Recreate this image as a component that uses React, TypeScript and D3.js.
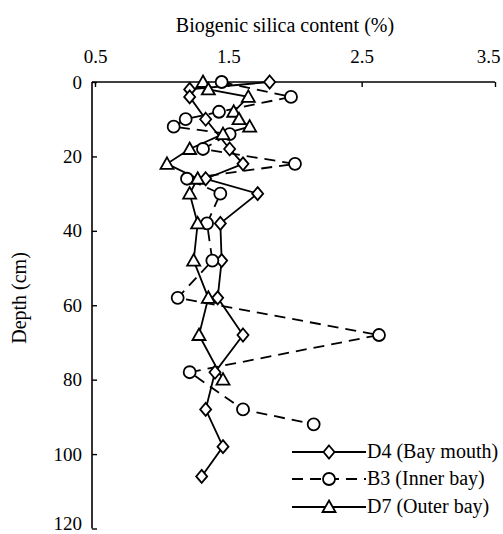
import { useEffect, useRef } from "react";
import * as d3 from "d3";

// depth (cm) and biogenic silica (%) per core
const depthD4 = [0, 2, 4, 10, 18, 22, 26, 30, 38, 48, 58, 68, 78, 88, 98, 106];
const silicaD4 = [1.81, 1.21, 1.21, 1.33, 1.51, 1.61, 1.33, 1.72, 1.44, 1.45, 1.42, 1.61, 1.4, 1.33, 1.46, 1.3];

const depthB3 = [0, 4, 8, 10, 12, 14, 18, 22, 26, 30, 38, 48, 58, 68, 78, 88, 92];
const silicaB3 = [1.45, 1.97, 1.43, 1.18, 1.09, 1.51, 1.31, 2.0, 1.19, 1.44, 1.34, 1.38, 1.12, 2.63, 1.21, 1.61, 2.14];

const depthD7 = [0, 2, 4, 8, 10, 12, 14, 18, 22, 26, 30, 38, 48, 58, 68, 80];
const silicaD7 = [1.31, 1.35, 1.65, 1.54, 1.58, 1.66, 1.46, 1.21, 1.04, 1.27, 1.21, 1.27, 1.24, 1.35, 1.28, 1.46];

const xTicks = [0.5, 1.5, 2.5, 3.5];
const yTicks = [0, 20, 40, 60, 80, 100, 120];
const seriesNames = ["D4 (Bay mouth)", "B3 (Inner bay)", "D7 (Outer bay)"];

const FONT = "'Liberation Serif', 'Times New Roman', serif";

const diamond = "M0,-6.5L5.5,0L0,6.5L-5.5,0Z";
const triangle = "M0,-6.5L6.5,5L-6.5,5Z";

export default function App() {
  const ref = useRef<SVGSVGElement>(null);

  useEffect(() => {
    const svg = d3.select(ref.current);
    svg.selectAll("*").remove();

    const x = d3.scaleLinear().domain([0.5, 3.5]).range([95, 495]);
    const y = d3.scaleLinear().domain([0, 120]).range([82, 528.5]);
    const left = 92;

    // axes frame
    svg.append("line").attr("x1", left).attr("x2", 495).attr("y1", y(0)).attr("y2", y(0))
      .attr("stroke", "#000").attr("stroke-width", 1.6);
    svg.append("line").attr("x1", left).attr("x2", left).attr("y1", y(0)).attr("y2", y(120))
      .attr("stroke", "#000").attr("stroke-width", 1.6);

    const xAxis = svg.append("g")
      .attr("transform", `translate(0,${y(0)})`)
      .call(d3.axisTop(x).tickValues(xTicks).tickFormat(d3.format(".1f")).tickSizeInner(-5).tickSizeOuter(0).tickPadding(19));
    xAxis.select(".domain").remove();
    // last label sits against the right edge
    xAxis.selectAll(".tick text").filter((d: any) => d === 3.5).attr("dx", -7);

    const yAxis = svg.append("g")
      .attr("transform", `translate(${left},0)`)
      .call(d3.axisLeft(y).tickValues(yTicks).tickSizeInner(-5).tickSizeOuter(0).tickPadding(10));
    yAxis.select(".domain").remove();
    yAxis.selectAll(".tick text").filter((d: any) => d === 120).attr("dy", "0.05em");

    svg.selectAll(".tick line").attr("stroke", "#000").attr("stroke-width", 1.4);
    svg.selectAll(".tick text").attr("fill", "#000").style("font-family", FONT).style("font-size", "19px");

    // titles
    svg.append("text").attr("x", 285).attr("y", 32).attr("text-anchor", "middle")
      .style("font-family", FONT).style("font-size", "20px").text("Biogenic silica content (%)");
    svg.append("text").attr("transform", "translate(26,298) rotate(-90)").attr("text-anchor", "middle")
      .style("font-family", FONT).style("font-size", "20px").text("Depth (cm)");

    const series = [
      { depth: depthD4, val: silicaD4, dash: null, marker: "diamond" },
      { depth: depthB3, val: silicaB3, dash: "11,7", marker: "circle" },
      { depth: depthD7, val: silicaD7, dash: null, marker: "triangle" },
    ];

    const line = d3.line<[number, number]>().x((d) => x(d[1])).y((d) => y(d[0]));

    const drawMarker = (g: any, kind: string, cx: number, cy: number) => {
      if (kind === "circle") {
        g.append("circle").attr("cx", cx).attr("cy", cy).attr("r", 6)
          .attr("fill", "#fff").attr("stroke", "#000").attr("stroke-width", 1.8);
      } else {
        g.append("path").attr("d", kind === "diamond" ? diamond : triangle)
          .attr("transform", `translate(${cx},${cy})`)
          .attr("fill", "#fff").attr("stroke", "#000").attr("stroke-width", 1.8);
      }
    };

    series.forEach((s) => {
      const pts = s.depth.map((d, i) => [d, s.val[i]] as [number, number]);
      svg.append("path").attr("d", line(pts)).attr("fill", "none").attr("stroke", "#000")
        .attr("stroke-width", 1.8).attr("stroke-dasharray", s.dash);
    });
    series.forEach((s) => {
      const g = svg.append("g");
      s.depth.forEach((d, i) => drawMarker(g, s.marker, x(s.val[i]), y(d)));
    });

    // legend
    const legY = [452, 479, 507];
    series.forEach((s, i) => {
      const g = svg.append("g");
      g.append("line").attr("x1", 292).attr("x2", 366).attr("y1", legY[i]).attr("y2", legY[i])
        .attr("stroke", "#000").attr("stroke-width", 1.8).attr("stroke-dasharray", s.dash);
      drawMarker(g, s.marker, 329, legY[i]);
      g.append("text").attr("x", 367).attr("y", legY[i] + 6).style("font-family", FONT)
        .style("font-size", "20px").text(seriesNames[i]);
    });
  }, []);

  return (
    <svg ref={ref} width={503} height={534}
      style={{ position: "absolute", left: 0, top: 0, background: "#fff" }} />
  );
}
